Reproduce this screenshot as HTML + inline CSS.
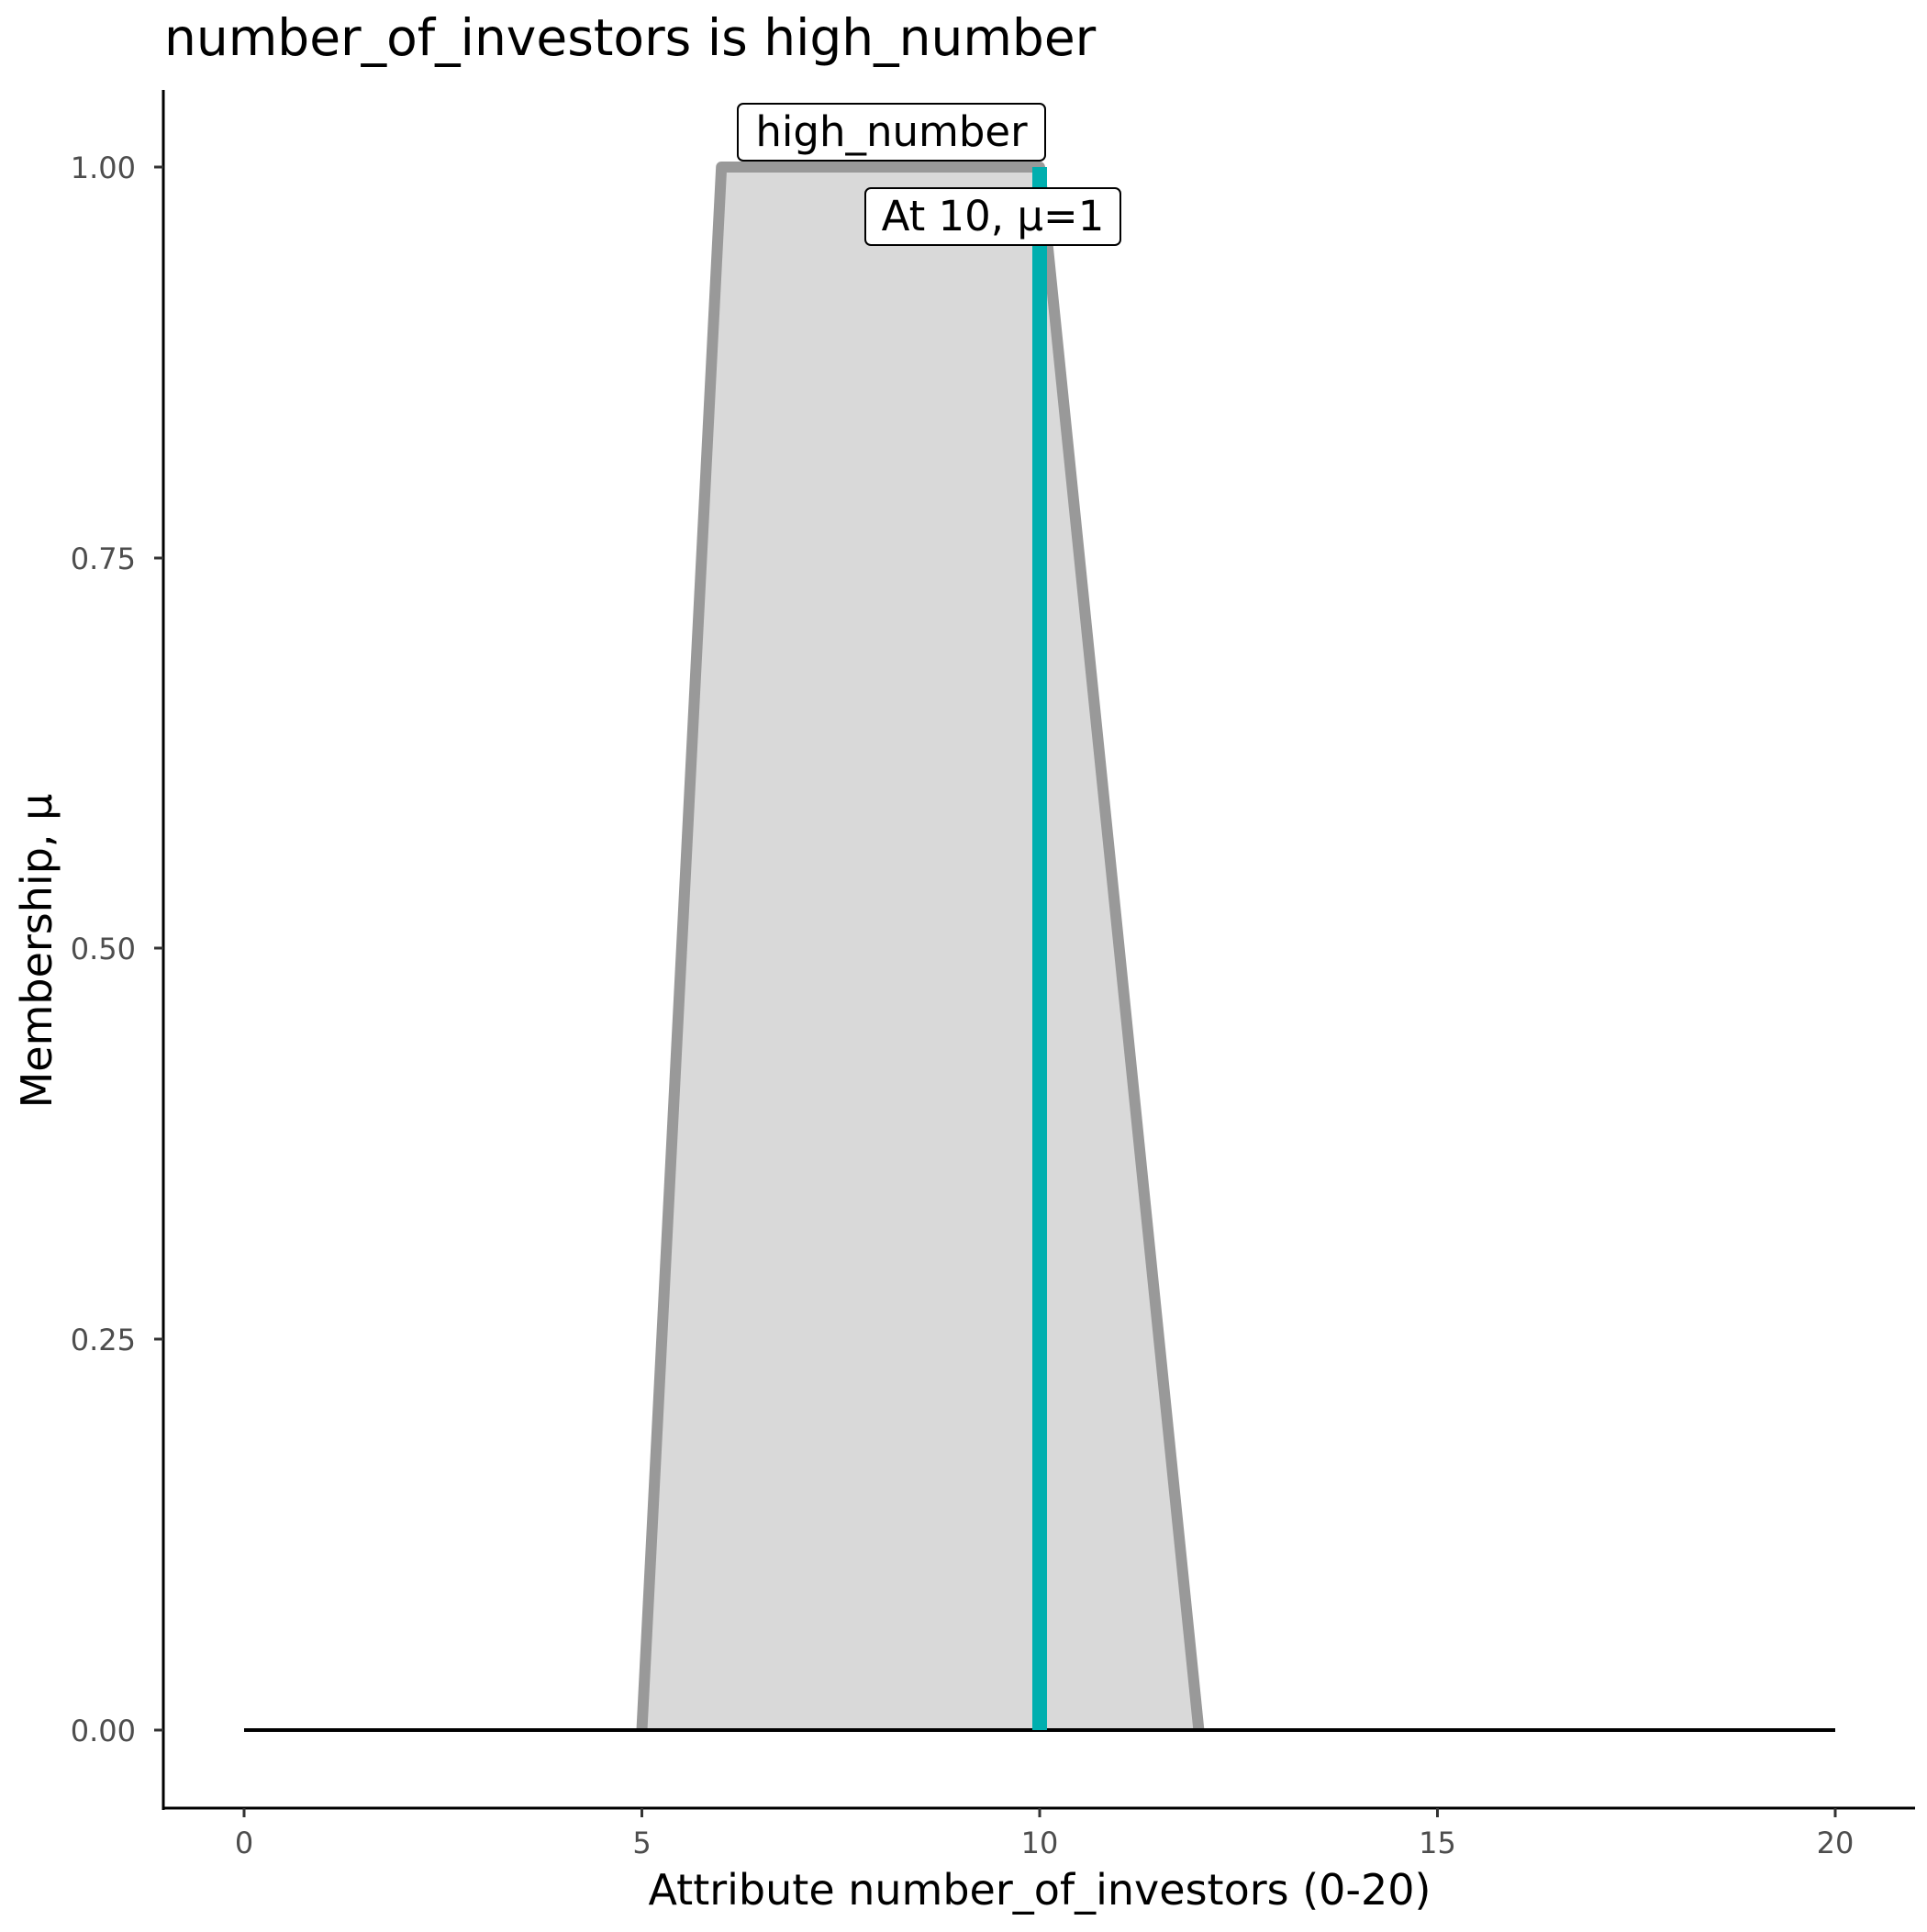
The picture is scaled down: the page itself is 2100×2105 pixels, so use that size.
<!DOCTYPE html>
<html><head><meta charset="utf-8"><style>html,body{margin:0;padding:0;background:#fff}</style></head>
<body>
<svg width="2100" height="2100" xmlns="http://www.w3.org/2000/svg" font-family="'DejaVu Sans','Liberation Sans',sans-serif">
<rect width="2100" height="2100" fill="#fff"/>
<text x="179" y="60" font-size="55" fill="#000">number_of_investors is high_number</text>
<polygon points="699.5,1885 786.2,182 1133,182 1306.4,1885" fill="#d9d9d9"/>
<polyline points="699.5,1885 786.2,182 1133,182 1306.4,1885" fill="none" stroke="#999" stroke-width="12" stroke-linejoin="round"/>
<line x1="266" y1="1885" x2="2000" y2="1885" stroke="#000" stroke-width="4"/>
<line x1="1133" y1="182" x2="1133" y2="1885" stroke="#00AFAF" stroke-width="16"/>
<rect x="804" y="113" width="335" height="62" rx="6" fill="#fff" stroke="#000" stroke-width="2"/>
<text x="971.5" y="159" font-size="45" text-anchor="middle" fill="#000">high_number</text>
<rect x="943" y="205" width="278" height="62" rx="6" fill="#fff" stroke="#000" stroke-width="2"/>
<text x="1082" y="251" font-size="45" text-anchor="middle" fill="#000">At 10, μ=1</text>
<line x1="178" y1="98" x2="178" y2="1972" stroke="#000" stroke-width="3"/>
<line x1="177" y1="1970" x2="2087" y2="1970" stroke="#000" stroke-width="3"/>
<g stroke="#333" stroke-width="3">
<line x1="168" y1="182" x2="178" y2="182"/><line x1="168" y1="608" x2="178" y2="608"/>
<line x1="168" y1="1033" x2="178" y2="1033"/><line x1="168" y1="1459" x2="178" y2="1459"/>
<line x1="168" y1="1885" x2="178" y2="1885"/>
<line x1="266" y1="1970" x2="266" y2="1980"/><line x1="699.5" y1="1970" x2="699.5" y2="1980"/>
<line x1="1133" y1="1970" x2="1133" y2="1980"/><line x1="1566.5" y1="1970" x2="1566.5" y2="1980"/>
<line x1="2000" y1="1970" x2="2000" y2="1980"/>
</g>
<g font-size="32" fill="#4d4d4d" text-anchor="end">
<text x="148" y="194">1.00</text><text x="148" y="620">0.75</text><text x="148" y="1045">0.50</text>
<text x="148" y="1471">0.25</text><text x="148" y="1897">0.00</text>
</g>
<g font-size="32" fill="#4d4d4d" text-anchor="middle">
<text x="266" y="2019">0</text><text x="699.5" y="2019">5</text><text x="1133" y="2019">10</text>
<text x="1566.5" y="2019">15</text><text x="2000" y="2019">20</text>
</g>
<text x="1133" y="2075" font-size="46" text-anchor="middle" fill="#000">Attribute number_of_investors (0-20)</text>
<text transform="translate(56,1036) rotate(-90)" font-size="46" text-anchor="middle" fill="#000">Membership, μ</text>
</svg>
</body></html>
